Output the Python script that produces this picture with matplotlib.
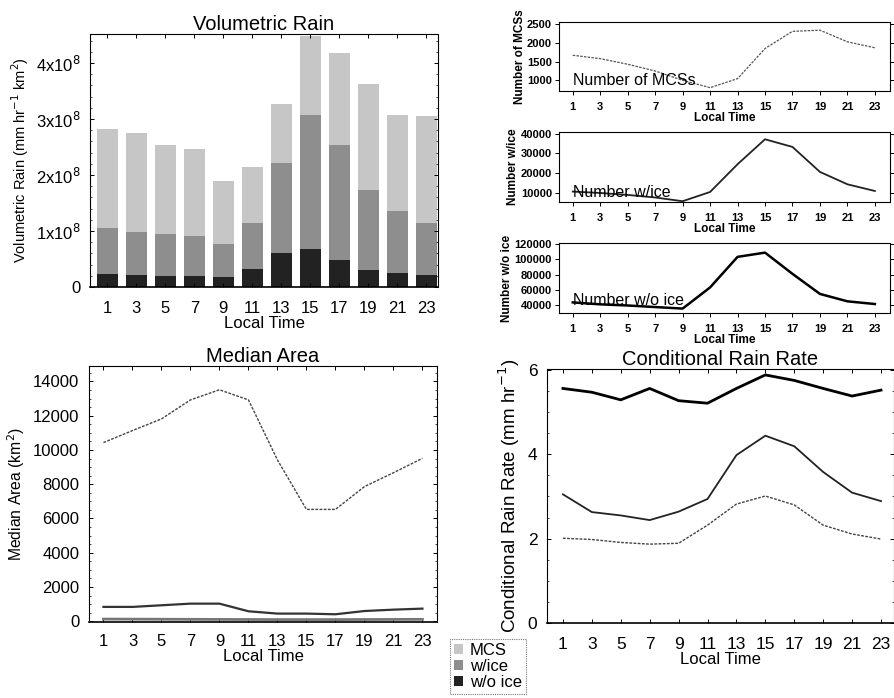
import matplotlib
matplotlib.use("Agg")
import matplotlib.pyplot as plt
from matplotlib.patches import Patch
import numpy as np

plt.rcParams['font.family'] = ['Liberation Sans', 'DejaVu Sans']

hours = [1, 3, 5, 7, 9, 11, 13, 15, 17, 19, 21, 23]

# volumetric rain (units of 1e8 mm hr-1 km2)
vol_mcs = [2.83, 2.76, 2.54, 2.46, 1.90, 2.14, 3.27, 4.49, 4.18, 3.62, 3.08, 3.05]
vol_ice = [1.05, 0.98, 0.95, 0.91, 0.77, 1.15, 2.22, 3.08, 2.53, 1.74, 1.35, 1.15]
vol_noice = [0.23, 0.21, 0.20, 0.19, 0.18, 0.33, 0.61, 0.68, 0.48, 0.30, 0.25, 0.21]

# counts
n_mcs = [1670, 1580, 1430, 1250, 1000, 804, 1045, 1850, 2310, 2340, 2030, 1870]
n_ice = [10500, 9800, 8800, 7500, 5600, 10300, 24400, 37100, 33200, 20500, 14200, 10800]
n_noice = [44000, 41500, 40000, 38000, 36000, 63400, 103000, 108500, 81000, 55000, 45400, 41900]

# median area (km2)
area_mcs = [10430, 11130, 11810, 12920, 13510, 12920, 9415, 6530, 6530, 7860, 8670, 9510]
area_ice = [840, 840, 935, 1030, 1030, 585, 450, 450, 410, 600, 680, 740]
area_noice = [130, 125, 120, 115, 110, 105, 100, 100, 100, 105, 110, 115]

# conditional rain rate (mm hr-1)
rr_mcs = [2.01, 1.98, 1.91, 1.87, 1.89, 2.32, 2.82, 3.01, 2.80, 2.32, 2.11, 1.99]
rr_ice = [3.05, 2.63, 2.55, 2.44, 2.64, 2.94, 3.98, 4.44, 4.19, 3.58, 3.09, 2.89]
rr_noice = [5.56, 5.47, 5.29, 5.56, 5.27, 5.21, 5.56, 5.88, 5.75, 5.56, 5.38, 5.52]

c_mcs = '#c6c6c6'
c_ice = '#8e8e8e'
c_noice = '#222222'


def frame(ax):
    for s in ['top', 'right', 'left']:
        ax.spines[s].set_linestyle((0, (1, 1)))
        ax.spines[s].set_linewidth(0.8)
    ax.spines['bottom'].set_linewidth(1.2)
    ax.tick_params(direction='in', top=True, right=True, length=3, width=0.7)
    ax.tick_params(which='minor', direction='in', right=True, length=1.5, width=0.5)
    ax.set_xticks(hours)


fig = plt.figure(figsize=(8.95, 6.98), dpi=100)

# --- volumetric rain ---
ax = fig.add_axes([0.1006, 0.5888, 0.3888, 0.3625])
x = np.array(hours)
ax.bar(x, vol_mcs, width=1.45, color=c_mcs)
ax.bar(x, vol_ice, width=1.45, color=c_ice)
ax.bar(x, vol_noice, width=1.45, color=c_noice)
ax.set_xlim(-0.2, 23.8)
ax.set_ylim(0, 4.52)
ax.set_yticks([0, 1, 2, 3, 4])
ax.set_yticklabels(['0', r'1x10$^8$', r'2x10$^8$', r'3x10$^8$', r'4x10$^8$'])
ax.set_yticks(np.arange(0, 4.5, 0.2), minor=True)
frame(ax)
ax.tick_params(axis='x', labelsize=12, pad=10)
ax.tick_params(axis='y', labelsize=12, pad=7)
ax.set_xlabel('Local Time', fontsize=12, labelpad=0)
ax.set_ylabel('Volumetric Rain (mm hr$^{-1}$ km$^2$)', fontsize=10.5, labelpad=3)
ax.set_title('Volumetric Rain', fontsize=14.5, pad=3)

# --- small count panels ---
small = [
    ([0.6246, 0.8696, 0.3698, 0.0989], n_mcs, (714, 2560), [1000, 1500, 2000, 2500],
     'Number of MCSs', 0.9, '#555555', 790),
    ([0.6246, 0.7106, 0.3698, 0.1003], n_ice, (5200, 40800), [10000, 20000, 30000, 40000],
     'Number w/ice', 1.3, '#222222', 6300),
    ([0.6246, 0.5516, 0.3698, 0.1003], n_noice, (30300, 121000), [40000, 60000, 80000, 100000, 120000],
     'Number w/o ice', 1.8, 'black', 36500),
]
for pos, vals, ylim, yt, lab, lw, col, ty in small:
    a = fig.add_axes(pos)
    ls = (0, (2, 1)) if lw < 1 else '-'
    a.plot(hours, vals, color=col, lw=lw, ls=ls)
    a.set_xlim(0, 24.1)
    a.set_ylim(*ylim)
    a.set_yticks(yt)
    frame(a)
    a.spines['left'].set_linestyle('-')
    a.spines['bottom'].set_linestyle((0, (1, 1)))
    a.spines['bottom'].set_linewidth(0.8)
    a.tick_params(direction='out', top=False, labelsize=8)
    a.tick_params(axis='x', pad=5)
    a.tick_params(axis='y', pad=2)
    for t in a.get_xticklabels() + a.get_yticklabels():
        t.set_fontweight('bold')
    a.set_xlabel('Local Time', fontsize=8.5, fontweight='bold', labelpad=0)
    a.set_ylabel(lab, fontsize=8.5, fontweight='bold', labelpad=1)
    a.text(1.0, ty, lab, fontsize=11.5, va='bottom')

# --- median area ---
ax = fig.add_axes([0.0994, 0.1089, 0.3888, 0.3668])
ax.plot(hours, area_mcs, color='#444444', lw=1.0, ls=(0, (2, 1)))
ax.plot(hours, area_ice, color='#333333', lw=1.6)
ax.plot(hours, area_noice, color='#777777', lw=2.0)
ax.set_xlim(0, 24)
ax.set_ylim(-40, 14900)
ax.set_yticks(range(0, 14001, 2000))
ax.set_yticks(range(0, 14900, 500), minor=True)
frame(ax)
ax.tick_params(axis='x', labelsize=12, pad=9)
ax.tick_params(axis='y', labelsize=12, pad=7)
ax.set_xlabel('Local Time', fontsize=12, labelpad=0)
ax.set_ylabel('Median Area (km$^2$)', fontsize=11.3, labelpad=4)
ax.set_title('Median Area', fontsize=14.5, pad=3)

# --- conditional rain rate ---
ax = fig.add_axes([0.6112, 0.1074, 0.3877, 0.3639])
ax.plot(hours, rr_mcs, color='#444444', lw=1.0, ls=(0, (2, 1)))
ax.plot(hours, rr_ice, color='#222222', lw=1.3)
ax.plot(hours, rr_noice, color='black', lw=2.0)
ax.set_xlim(-0.1, 23.9)
ax.set_ylim(0, 6.02)
ax.set_yticks([0, 2, 4, 6])
ax.set_yticks(np.arange(0, 6.01, 0.5), minor=True)
frame(ax)
ax.tick_params(axis='x', labelsize=12.5, pad=10)
ax.tick_params(axis='y', labelsize=12.5, pad=7)
ax.set_xlabel('Local Time', fontsize=12, labelpad=0)
ax.set_ylabel('Conditional Rain Rate (mm hr$^{-1}$)', fontsize=13.5, labelpad=4)
ax.set_title('Conditional Rain Rate', fontsize=14.5, pad=3)

# --- legend ---
handles = [Patch(facecolor=c_mcs, edgecolor='none', label='MCS'),
           Patch(facecolor=c_ice, edgecolor='none', label='w/ice'),
           Patch(facecolor=c_noice, edgecolor='none', label='w/o ice')]
leg = fig.legend(handles=handles, loc='lower left', bbox_to_anchor=(0.493, -0.006),
                 fontsize=12, handlelength=0.55, handleheight=0.55, handletextpad=0.4,
                 labelspacing=0.05, borderpad=0.25, fancybox=False, edgecolor='#555555')
leg.get_frame().set_linestyle((0, (1, 1)))
leg.get_frame().set_linewidth(0.8)

fig.savefig('out.png', dpi=100)
